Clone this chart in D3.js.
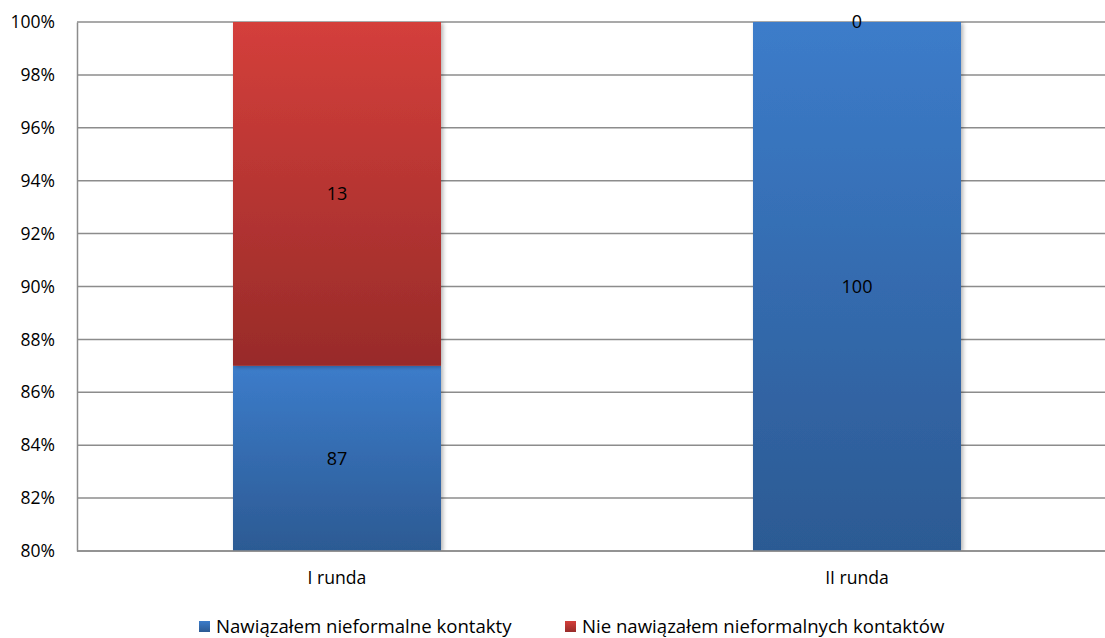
<!DOCTYPE html>
<html>
<head>
<meta charset="utf-8">
<script src="https://cdn.jsdelivr.net/npm/d3@7"></script>
<style>
  html, body { margin: 0; padding: 0; background: #fff; }
  svg { display: block; font-family: "Open Sans", Lato, sans-serif; }
</style>
</head>
<body>
<svg id="chart" width="1105" height="638"></svg>
<script>
// Rounds and the share of respondents in each answer group (percent)
const categories = ["I runda", "II runda"];
const seriesNames = ["Nawiązałem nieformalne kontakty", "Nie nawiązałem nieformalnych kontaktów"];
const madeContacts = [87, 100];
const noContacts = [13, 0];
const yTicks = [0.80, 0.82, 0.84, 0.86, 0.88, 0.90, 0.92, 0.94, 0.96, 0.98, 1.00];

const FONT = "'Open Sans', Lato, sans-serif";
const svg = d3.select("#chart");
const margin = { left: 77, top: 22, right: -12, bottom: 87 };
const W = 1105, H = 638;

const x = d3.scaleBand()
  .domain(categories)
  .range([margin.left, W - margin.right])
  .paddingInner(0.6)
  .paddingOuter(0.3);

const y = d3.scaleLinear()
  .domain([0.80, 1.00])
  .range([H - margin.bottom, margin.top]);

const defs = svg.append("defs");
const gradients = [
  { id: "gBlue", top: "#3c7cca", bottom: "#2c5a93" },
  { id: "gRed", top: "#d43f3b", bottom: "#982b29" }
];
gradients.forEach(g => {
  const lg = defs.append("linearGradient").attr("id", g.id)
    .attr("x1", 0).attr("y1", 0).attr("x2", 0).attr("y2", 1);
  lg.append("stop").attr("offset", "0%").attr("stop-color", g.top);
  lg.append("stop").attr("offset", "100%").attr("stop-color", g.bottom);
});
const shadow = defs.append("filter").attr("id", "barShadow")
  .attr("x", "-10%").attr("y", "-10%").attr("width", "130%").attr("height", "130%");
shadow.append("feDropShadow").attr("dx", 2).attr("dy", 1)
  .attr("stdDeviation", 2).attr("flood-color", "#000").attr("flood-opacity", 0.3);
defs.append("clipPath").attr("id", "plotClip").append("rect")
  .attr("x", margin.left).attr("y", margin.top)
  .attr("width", W - margin.left).attr("height", y(0.80) - y(1.00));

// Gridlines
svg.append("g").selectAll("line").data(yTicks).join("line")
  .attr("x1", margin.left).attr("x2", W)
  .attr("y1", d => y(d)).attr("y2", d => y(d))
  .attr("stroke", "#8c8c8c").attr("stroke-width", 1.5);

// Y axis
const yAxis = svg.append("g").attr("transform", `translate(${margin.left},0)`)
  .call(d3.axisLeft(y).tickValues(yTicks).tickFormat(d3.format(".0%")).tickSize(0).tickPadding(22));
yAxis.select(".domain").attr("stroke", "#8c8c8c").attr("stroke-width", 1.5);
yAxis.selectAll("text").attr("font-size", 17.5).attr("fill", "#000")
  .attr("font-family", FONT);

// Stacked bars
const stackData = categories.map((c, i) => ({ cat: c, a: madeContacts[i] / 100, b: noContacts[i] / 100 }));
const segments = [];
stackData.forEach(d => {
  segments.push({ cat: d.cat, y0: 0, y1: d.a, value: d.a * 100, grad: "gBlue" });
  segments.push({ cat: d.cat, y0: d.a, y1: d.a + d.b, value: d.b * 100, grad: "gRed" });
});

const barsG = svg.append("g").attr("clip-path", "url(#plotClip)");
barsG.selectAll("rect").data(segments.filter(s => s.y1 > s.y0)).join("rect")
  .attr("x", d => x(d.cat))
  .attr("width", x.bandwidth())
  .attr("y", d => y(d.y1))
  .attr("height", d => y(Math.max(d.y0, 0.8)) - y(d.y1))
  .attr("fill", d => `url(#${d.grad})`)
  .attr("filter", "url(#barShadow)");

// X axis line
svg.append("line")
  .attr("x1", margin.left).attr("x2", W)
  .attr("y1", y(0.80)).attr("y2", y(0.80))
  .attr("stroke", "#8c8c8c").attr("stroke-width", 1.5);

// Value labels
svg.append("g").selectAll("text").data(segments).join("text")
  .attr("x", d => x(d.cat) + x.bandwidth() / 2)
  .attr("y", d => {
    const lo = Math.max(d.y0, 0.8), hi = Math.min(d.y1, 1.0);
    return hi > lo ? y((lo + hi) / 2) : y(hi);
  })
  .attr("dy", "0.35em")
  .attr("text-anchor", "middle")
  .attr("font-size", 18).attr("fill", "#000")
  .text(d => d3.format("d")(d.value));

// Category labels
svg.append("g").selectAll("text").data(categories).join("text")
  .attr("x", d => x(d) + x.bandwidth() / 2)
  .attr("y", y(0.80) + 27)
  .attr("dy", "0.35em")
  .attr("text-anchor", "middle")
  .attr("font-size", 17.6).attr("fill", "#000")
  .text(d => d);

// Legend
const legendItems = [
  { name: seriesNames[0], grad: "gBlue", x: 199 },
  { name: seriesNames[1], grad: "gRed", x: 565 }
];
const lg = svg.append("g").selectAll("g").data(legendItems).join("g")
  .attr("transform", d => `translate(${d.x},621)`);
lg.append("rect").attr("width", 11).attr("height", 11).attr("fill", d => `url(#${d.grad})`);
lg.append("text").attr("x", 17).attr("y", 12)
  .attr("font-size", 18.6).attr("fill", "#000")
  .text(d => d.name);
</script>
</body>
</html>
